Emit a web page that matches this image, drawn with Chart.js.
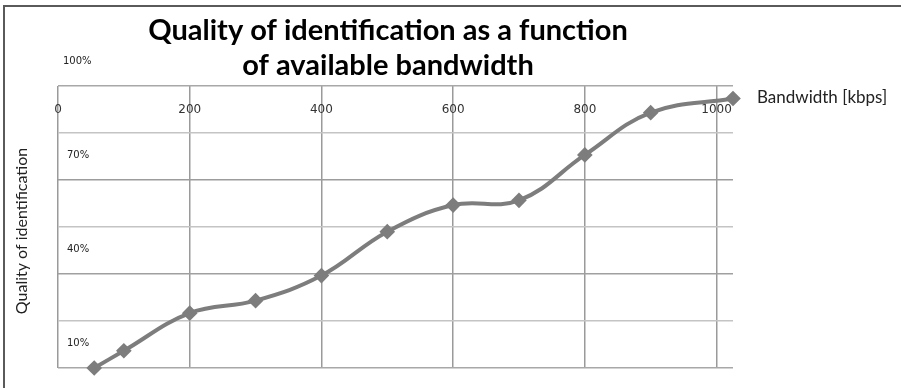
<!DOCTYPE html>
<html lang="en">
<head>
  <meta charset="UTF-8">
  <title>Quality of identification</title>
  <style>
    body {
      margin: 0;
      background: #fff;
    }
    canvas {
      display: block;
    }
  </style>
  <script src="https://cdn.jsdelivr.net/npm/chart.js"></script>
</head>
<body>

<canvas id="chart" width="904" height="388"></canvas>

<script>
// data
const bandwidth = [55, 100, 200, 300, 400, 500, 600, 700, 800, 900, 1025];
const quality = [0, 5.5, 17.5, 21.5, 29.5, 43.5, 52, 53.5, 68, 81.5, 86];

const xTicks = [0, 200, 400, 600, 800, 1000];
const yGrid = [0, 15, 30, 45, 60, 75, 90];
const yLabels = [10, 40, 70, 100];

const titleLines = ["Quality of identification as a function", "of available bandwidth"];
const xTitle = "Bandwidth [kbps]";
const yTitle = "Quality of identification";

// horizontal grid lines are not all the same shade in the original
const hGridColors = ["#a8a8a8", "#c4c4c4", "#a0a0a0", "#c4c4c4", "#9c9c9c", "#c4c4c4", "#a8a8a8"];

const textPlugin = {
  id: "textPlugin",
  beforeDraw(chart) {
    const ctx = chart.ctx;
    ctx.save();
    ctx.fillStyle = "#fff";
    ctx.fillRect(0, 0, chart.width, chart.height);
    // frame (top + left only)
    ctx.strokeStyle = "#5a5a5a";
    ctx.lineWidth = 2;
    ctx.beginPath();
    ctx.moveTo(4, chart.height);
    ctx.lineTo(4, 6);
    ctx.lineTo(901, 6);
    ctx.stroke();
    ctx.restore();
  },
  afterDraw(chart) {
    const ctx = chart.ctx;
    const x = chart.scales.x, y = chart.scales.y;
    ctx.save();

    // title
    ctx.fillStyle = "#000";
    ctx.font = "bold 29px Lato";
    ctx.textAlign = "center";
    ctx.textBaseline = "alphabetic";
    ctx.fillText(titleLines[0], 388, 40);
    ctx.fillText(titleLines[1], 388, 75);

    // x tick labels, inside the plot under the top edge
    ctx.font = "12px 'DejaVu Sans'";
    ctx.fillStyle = "#333";
    ctx.textBaseline = "middle";
    xTicks.forEach(v => ctx.fillText(String(v), x.getPixelForValue(v), chart.chartArea.top + 24));

    // y labels
    ctx.font = "10px 'DejaVu Sans'";
    ctx.textAlign = "left";
    ctx.fillStyle = "#222";
    yLabels.forEach((v, i) => {
      ctx.fillText(v + "%", i === 3 ? 63 : 67, y.getPixelForValue(v) + 7);
    });

    // axis titles
    ctx.font = "17px Lato";
    ctx.fillStyle = "#222";
    ctx.fillText(xTitle, 757, 98);

    ctx.translate(22, 231);
    ctx.rotate(-Math.PI / 2);
    ctx.textAlign = "center";
    ctx.font = "16px Lato";
    ctx.fillText(yTitle, 0, 0);
    ctx.restore();
  }
};

new Chart(document.getElementById("chart"), {
  type: "line",
  data: {
    datasets: [{
      data: bandwidth.map((b, i) => ({ x: b, y: quality[i] })),
      borderColor: "#7d7d7d",
      backgroundColor: "#7d7d7d",
      borderWidth: 4,
      tension: 0.4,
      pointStyle: "rectRot",
      pointRadius: 5,
      pointHoverRadius: 5,
      clip: false
    }]
  },
  options: {
    responsive: false,
    animation: false,
    devicePixelRatio: 1,
    layout: { padding: { left: 58, top: 86, right: 171, bottom: 20 } },
    plugins: {
      legend: { display: false },
      tooltip: { enabled: false },
      title: { display: false }
    },
    scales: {
      x: {
        type: "linear",
        min: 0,
        max: 1025,
        afterBuildTicks: s => { s.ticks = xTicks.map(v => ({ value: v })); },
        ticks: { display: false },
        grid: { color: "#9a9a9a", lineWidth: 1.5, drawTicks: false },
        border: { display: false }
      },
      y: {
        min: 0,
        max: 90,
        afterBuildTicks: s => { s.ticks = yGrid.map(v => ({ value: v })); },
        ticks: { display: false },
        grid: {
          color: c => hGridColors[c.index] || "#aaa",
          lineWidth: 1.5,
          drawTicks: false
        },
        border: { display: false }
      }
    }
  },
  plugins: [textPlugin]
});
</script>
</body>
</html>
